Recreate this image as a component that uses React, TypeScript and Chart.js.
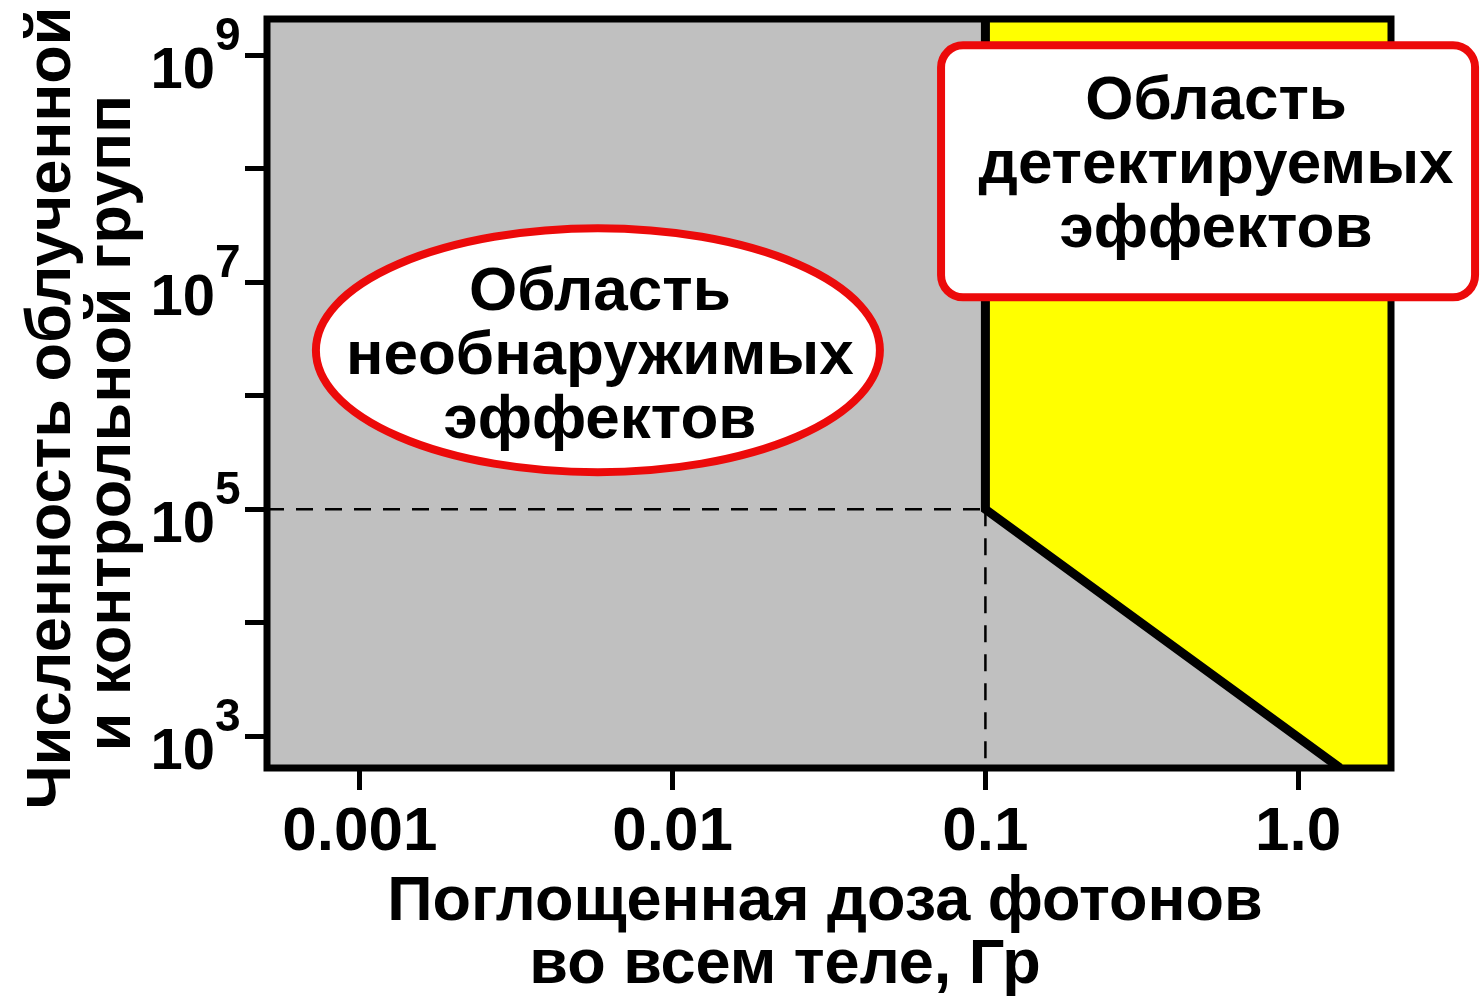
import { useEffect, useRef } from 'react';
import { Chart, registerables } from 'chart.js';

Chart.register(...registerables);

// ---- data ----
const xMinDose = 0.000505;
const xMaxDose = 1.98;
const yMinCount = 525;
const yMaxCount = 2.09e9;

const xTickValues = [0.001, 0.01, 0.1, 1];
const xTickLabels = ['0.001', '0.01', '0.1', '1.0'];
const yTickValues = [1e3, 1e4, 1e5, 1e6, 1e7, 1e8, 1e9];
const yLabelExponents = [3, 5, 7, 9];

const thresholdDose = 0.1;
const thresholdCount = 1e5;

const boundaryDose = [0.1, 0.1, 1.36];
const boundaryCount = [yMaxCount, 1e5, yMinCount];

const detectDose = [0.1, 1.36, xMaxDose];
const detectCount = [1e5, yMinCount, yMinCount];

const xTitle = ['Поглощенная доза фотонов', 'во всем теле, Гр'];
const yTitle = ['Численность облученной', 'и контрольной групп'];
const undetectLabel = ['Область', 'необнаружимых', 'эффектов'];
const detectLabel = ['Область', 'детектируемых', 'эффектов'];

// annotation anchors (data coordinates)
const undetectCenter = { x: 0.00577, y: 2.52e6 };
const detectCenter = { x: 0.515, y: 9.5e7 };

const FONT = '"Liberation Sans", Arial, sans-serif';
const NOTE_SIZE = 62;
const TITLE_SIZE = 63;
const RED = '#ec0a0a';

function pts(xs: number[], ys: number[]) {
  return xs.map((x, i) => ({ x, y: ys[i] }));
}

const decorPlugin = {
  id: 'decor',
  beforeDraw(chart: any) {
    const { ctx, chartArea: a } = chart;
    ctx.save();
    ctx.fillStyle = '#ffffff';
    ctx.fillRect(0, 0, chart.width, chart.height);
    ctx.fillStyle = '#c0c0c0';
    ctx.fillRect(a.left, a.top, a.right - a.left, a.bottom - a.top);
    ctx.restore();
  },
  afterDatasetsDraw(chart: any) {
    const { ctx, chartArea: a, scales } = chart;
    const xs = scales.x;
    const ys = scales.y;
    ctx.save();
    // frame
    ctx.lineWidth = 7;
    ctx.strokeStyle = '#000';
    ctx.strokeRect(a.left, a.top, a.right - a.left, a.bottom - a.top);

    // y tick labels 10^n
    ctx.fillStyle = '#000';
    ctx.textBaseline = 'alphabetic';
    for (const e of yLabelExponents) {
      const py = ys.getPixelForValue(Math.pow(10, e));
      ctx.font = `bold 58px ${FONT}`;
      ctx.textAlign = 'right';
      ctx.fillText('10', a.left - 52, py + 33);
      ctx.font = `bold 46px ${FONT}`;
      ctx.textAlign = 'left';
      ctx.fillText(String(e), a.left - 52, py - 5);
    }

    // ellipse annotation
    const ex = xs.getPixelForValue(undetectCenter.x);
    const ey = ys.getPixelForValue(undetectCenter.y);
    ctx.beginPath();
    ctx.ellipse(ex, ey, 282, 122, 0, 0, Math.PI * 2);
    ctx.fillStyle = '#ffffff';
    ctx.fill();
    ctx.lineWidth = 8;
    ctx.strokeStyle = RED;
    ctx.stroke();
    ctx.fillStyle = '#000';
    ctx.font = `bold ${NOTE_SIZE}px ${FONT}`;
    ctx.textAlign = 'center';
    undetectLabel.forEach((t, i) => {
      ctx.fillText(t, ex + 2, ey - 40 + i * 64);
    });

    // rounded box annotation
    const bx = xs.getPixelForValue(detectCenter.x);
    const by = ys.getPixelForValue(detectCenter.y);
    const bw = 534;
    const bh = 252;
    ctx.beginPath();
    ctx.roundRect(bx - bw / 2, by - bh / 2, bw, bh, 22);
    ctx.fillStyle = '#ffffff';
    ctx.fill();
    ctx.lineWidth = 8;
    ctx.strokeStyle = RED;
    ctx.stroke();
    ctx.fillStyle = '#000';
    detectLabel.forEach((t, i) => {
      ctx.fillText(t, bx + 8, by - 52 + i * 64);
    });

    // x title
    ctx.font = `bold ${TITLE_SIZE}px ${FONT}`;
    ctx.fillText(xTitle[0], 825, 920);
    ctx.fillText(xTitle[1], 785, 983);

    // y title (rotated)
    ctx.save();
    ctx.translate(70, 408);
    ctx.rotate(-Math.PI / 2);
    ctx.fillText(yTitle[0], 0, 0);
    ctx.restore();
    ctx.save();
    ctx.translate(130, 423);
    ctx.rotate(-Math.PI / 2);
    ctx.fillText(yTitle[1], 0, 0);
    ctx.restore();

    ctx.restore();
  },
};

export default function App() {
  const ref = useRef<HTMLCanvasElement | null>(null);

  useEffect(() => {
    if (!ref.current) return;
    const chart = new Chart(ref.current, {
      type: 'line',
      data: {
        datasets: [
          {
            data: pts(boundaryDose, boundaryCount),
            borderColor: '#000',
            borderWidth: 9,
            pointRadius: 0,
            fill: false,
            order: 1,
          },
          {
            data: pts([xMinDose, thresholdDose], [thresholdCount, thresholdCount]),
            borderColor: '#000',
            borderWidth: 2.5,
            borderDash: [17, 12],
            pointRadius: 0,
            fill: false,
            order: 2,
          },
          {
            data: pts([thresholdDose, thresholdDose], [thresholdCount, yMinCount]),
            borderColor: '#000',
            borderWidth: 2.5,
            borderDash: [17, 12],
            pointRadius: 0,
            fill: false,
            order: 3,
          },
          {
            data: pts(detectDose, detectCount),
            borderWidth: 0,
            borderColor: 'rgba(0,0,0,0)',
            backgroundColor: '#ffff00',
            pointRadius: 0,
            fill: 'end',
            order: 4,
          },
        ],
      },
      options: {
        animation: false,
        responsive: true,
        maintainAspectRatio: false,
        layout: { padding: { left: 0, top: 19, right: 89, bottom: 0 } },
        plugins: {
          legend: { display: false },
          tooltip: { enabled: false },
        },
        scales: {
          x: {
            type: 'logarithmic',
            min: xMinDose,
            max: xMaxDose,
            afterBuildTicks: (s: any) => {
              s.ticks = xTickValues.map((v) => ({ value: v }));
            },
            afterFit: (s: any) => {
              s.height = 228;
            },
            ticks: {
              autoSkip: false,
              maxRotation: 0,
              color: '#000',
              padding: 6,
              font: { family: FONT, size: NOTE_SIZE, weight: 'bold' },
              callback: (v: any) => {
                const i = xTickValues.findIndex((t) => Math.abs(t - v) / t < 1e-6);
                return i >= 0 ? xTickLabels[i] : '';
              },
            },
            grid: {
              drawOnChartArea: false,
              drawTicks: true,
              tickLength: 22,
              color: '#000',
              lineWidth: 5,
            },
            border: { display: false },
          },
          y: {
            type: 'logarithmic',
            min: yMinCount,
            max: yMaxCount,
            afterBuildTicks: (s: any) => {
              s.ticks = yTickValues.map((v) => ({ value: v }));
            },
            afterFit: (s: any) => {
              s.width = 267;
            },
            ticks: {
              autoSkip: false,
              callback: () => '',
            },
            grid: {
              drawOnChartArea: false,
              drawTicks: true,
              tickLength: 22,
              color: '#000',
              lineWidth: 5,
            },
            border: { display: false },
          },
        },
      },
      plugins: [decorPlugin],
    } as any);
    return () => chart.destroy();
  }, []);

  return (
    <div style={{ position: 'fixed', left: 0, top: 0, width: 1480, height: 996, background: '#fff' }}>
      <canvas ref={ref} />
    </div>
  );
}
